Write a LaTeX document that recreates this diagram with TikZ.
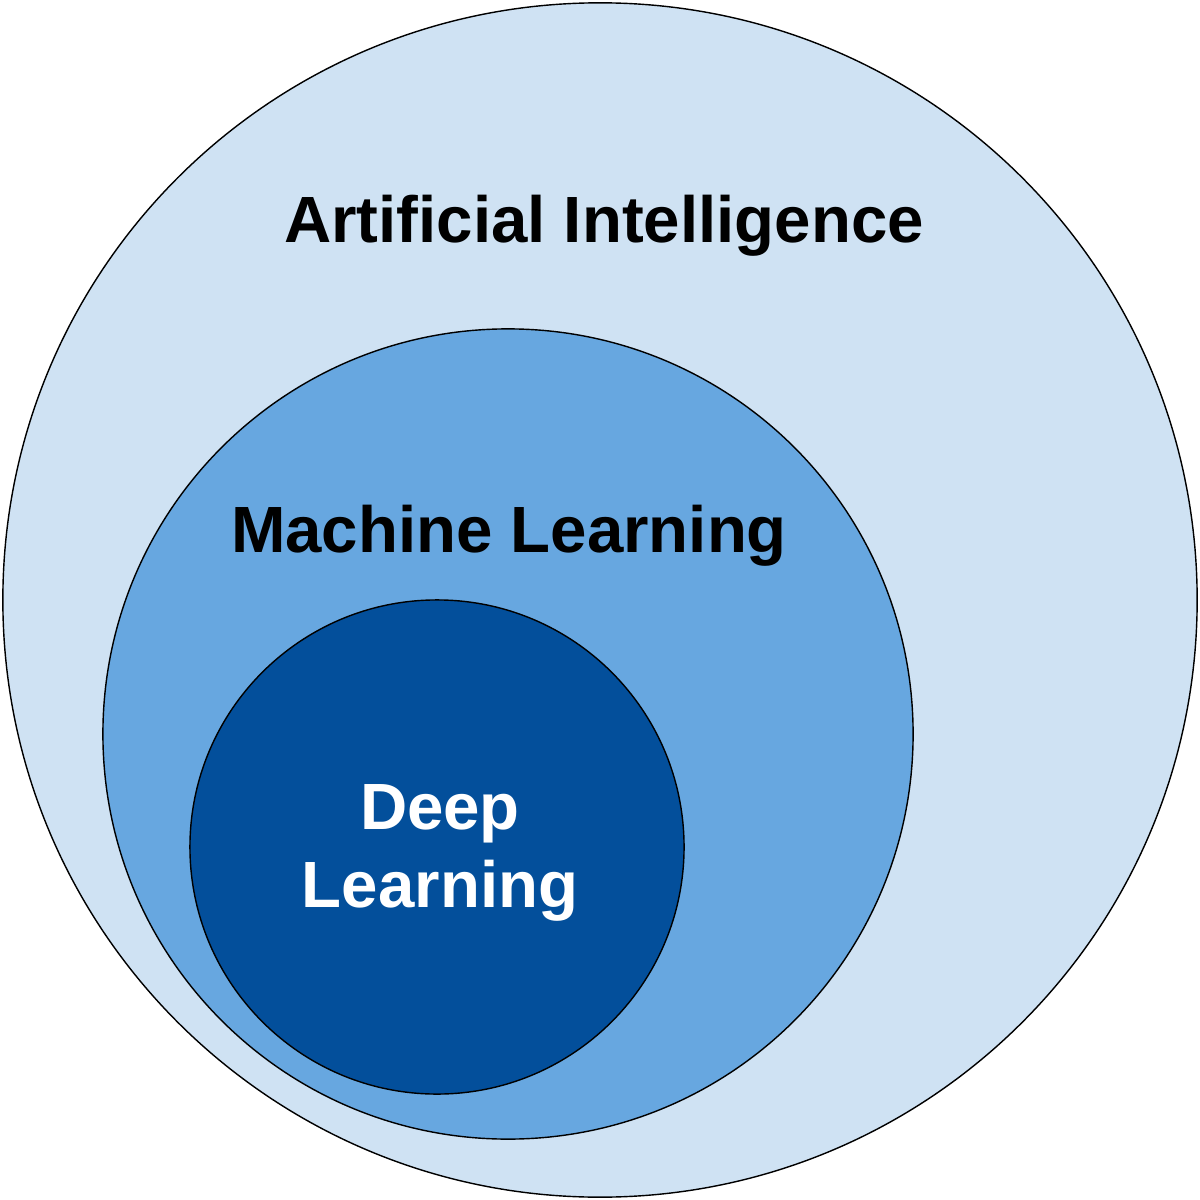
\documentclass[tikz,border=0pt]{standalone}
\usepackage{fontspec}
\setmainfont{Liberation Sans}
\definecolor{ailight}{HTML}{CFE2F3}
\definecolor{mlmid}{HTML}{67A7E0}
\definecolor{dldark}{HTML}{034F9B}
\begin{document}
\begin{tikzpicture}[x=0.025cm,y=-0.025cm,line width=1pt]
        \useasboundingbox (0,0) rectangle (1200,1200);
        \node[circle,draw,fill=ailight,minimum size=29.85cm,inner sep=0pt] (ai) at (600,600) {};
        \node[circle,draw,fill=mlmid,minimum size=20.25cm,inner sep=0pt] (ml) at (508,734) {};
        \node[circle,draw,fill=dldark,minimum size=12.35cm,inner sep=0pt] (dl) at (437,847) {};
        \node[anchor=base,font=\fontsize{46.5}{55}\selectfont\bfseries] (ailabel) at (604,243) {Artificial Intelligence};
        \node[anchor=base,font=\fontsize{46.5}{55}\selectfont\bfseries] (mllabel) at (509,552) {Machine Learning};
        \node[anchor=base,font=\fontsize{46.5}{55}\selectfont\bfseries,text=white,align=center] (dllabel) at (440,907) {Deep\\Learning};
    \end{tikzpicture}
\end{document}
